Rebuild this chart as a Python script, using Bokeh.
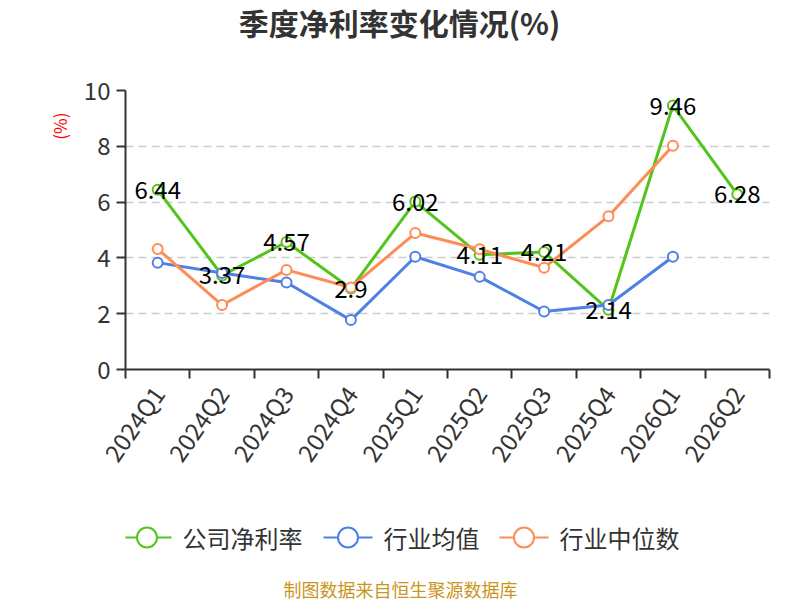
import math
from bokeh.plotting import figure
from bokeh.layouts import column
from bokeh.core.properties import value
from bokeh.models import (Range1d, FixedTicker, LabelSet, Label, ColumnDataSource, Title)
from bokeh.embed import file_html
from bokeh.resources import INLINE

quarters = ["2024Q1", "2024Q2", "2024Q3", "2024Q4", "2025Q1", "2025Q2",
            "2025Q3", "2025Q4", "2026Q1", "2026Q2"]
company = [6.44, 3.37, 4.57, 2.9, 6.02, 4.11, 4.21, 2.14, 9.46, 6.28]
company_text = ["6.44", "3.37", "4.57", "2.9", "6.02", "4.11", "4.21", "2.14", "9.46", "6.28"]
industry_avg = [3.83, 3.46, 3.12, 1.77, 4.04, 3.32, 2.08, 2.31, 4.04, float("nan")]
industry_median = [4.32, 2.31, 3.57, 2.94, 4.89, 4.31, 3.65, 5.49, 8.02, float("nan")]

series_names = ["公司净利率", "行业均值", "行业中位数"]
colors = ["#52C41A", "#4E80E6", "#FF8B55"]

FONT = "Noto Sans CJK SC"
xs = [i + 0.5 for i in range(len(quarters))]

# frame of every strip is aligned by the column layout to page x 125..769
FRAME_L, FRAME_R = 125, 769


def blank(h):
    f = figure(width=800, height=h, output_backend="svg", toolbar_location=None,
               x_range=Range1d(FRAME_L, FRAME_R), y_range=Range1d(0, h),
               min_border=0, min_border_left=FRAME_L, min_border_right=800 - FRAME_R,
               x_axis_location=None, y_axis_location=None)
    f.grid.visible = False
    f.outline_line_color = None
    f.title.visible = False
    return f


# ---------- title strip ----------
top = blank(70)
top.add_layout(Label(x=399, y=49, text="季度净利率变化情况(%)", text_align="center",
                     text_baseline="middle", text_font=FONT, text_font_size="30px",
                     text_font_style="bold", text_color="#333333"))

# ---------- main chart ----------
p = figure(width=800, height=410, output_backend="svg", toolbar_location=None,
           x_range=Range1d(0, 10), y_range=Range1d(0, 10),
           min_border_left=FRAME_L, min_border_right=800 - FRAME_R, min_border_top=20,
           min_border_bottom=107)
p.outline_line_color = None
p.title.visible = False

xa = p.xaxis[0]
xa.ticker = FixedTicker(ticks=xs, minor_ticks=list(range(11)))
xa.major_label_overrides = {x: q for x, q in zip(xs, quarters)}
xa.major_tick_line_color = None
xa.minor_tick_in = 0
xa.minor_tick_out = 9
xa.minor_tick_line_color = "#333333"
xa.minor_tick_line_width = 2
xa.axis_line_color = "#333333"
xa.axis_line_width = 2
xa.major_label_orientation = math.radians(55)
xa.major_label_text_font = FONT
xa.major_label_text_font_size = "24px"
xa.major_label_text_color = "#333333"
xa.major_label_standoff = 10

ya = p.yaxis[0]
ya.ticker = FixedTicker(ticks=[0, 2, 4, 6, 8, 10])
ya.major_tick_in = 0
ya.major_tick_out = 9
ya.major_tick_line_color = "#333333"
ya.major_tick_line_width = 2
ya.minor_tick_line_color = None
ya.axis_line_color = "#333333"
ya.axis_line_width = 2
ya.major_label_text_font = FONT
ya.major_label_text_font_size = "24px"
ya.major_label_text_color = "#333333"
ya.major_label_standoff = 6

p.xgrid.grid_line_color = None
p.ygrid.grid_line_color = "#CCCCCC"
p.ygrid.grid_line_width = 1.5
p.ygrid.grid_line_dash = "8 5"

p.add_layout(Title(text="(%)", align="right", offset=22, standoff=18,
                   text_font=FONT, text_font_size="17px",
                   text_font_style="normal", text_color="#FF0000"), "left")

for vals, col in zip([company, industry_avg, industry_median], colors):
    src = ColumnDataSource(dict(x=xs, y=vals))
    p.line("x", "y", source=src, line_color=col, line_width=3)
    p.scatter("x", "y", source=src, marker="circle", size=10, fill_color="white",
              line_color=col, line_width=2)

lab_src = ColumnDataSource(dict(x=xs, y=company, t=company_text))
p.add_layout(LabelSet(x="x", y="y", text="t", source=lab_src, text_align="center",
                      text_baseline="middle", text_font=value(FONT),
                      text_font_size=value("24px"), text_color="#000000"))

# ---------- legend + footer strip ----------
bot = blank(120)
leg_x0 = [122, 323, 499]
leg_y = 63
for x0, name, col in zip(leg_x0, series_names, colors):
    bot.line([x0, x0 + 49], [leg_y, leg_y], line_color=col, line_width=2)
    bot.scatter([x0 + 24.5], [leg_y], marker="circle", size=20, fill_color="white",
                line_color=col, line_width=2)
    bot.add_layout(Label(x=x0 + 60, y=leg_y, text=name, text_align="left",
                         text_baseline="middle", text_font=FONT,
                         text_font_size="24px", text_color="#333333"))
bot.add_layout(Label(x=400, y=12, text="制图数据来自恒生聚源数据库", text_align="center",
                     text_baseline="middle", text_font=FONT, text_font_size="18px",
                     text_color="#C8961E"))

layout = column(top, p, bot, spacing=0)
open("out.html", "w").write(file_html(layout, INLINE))
